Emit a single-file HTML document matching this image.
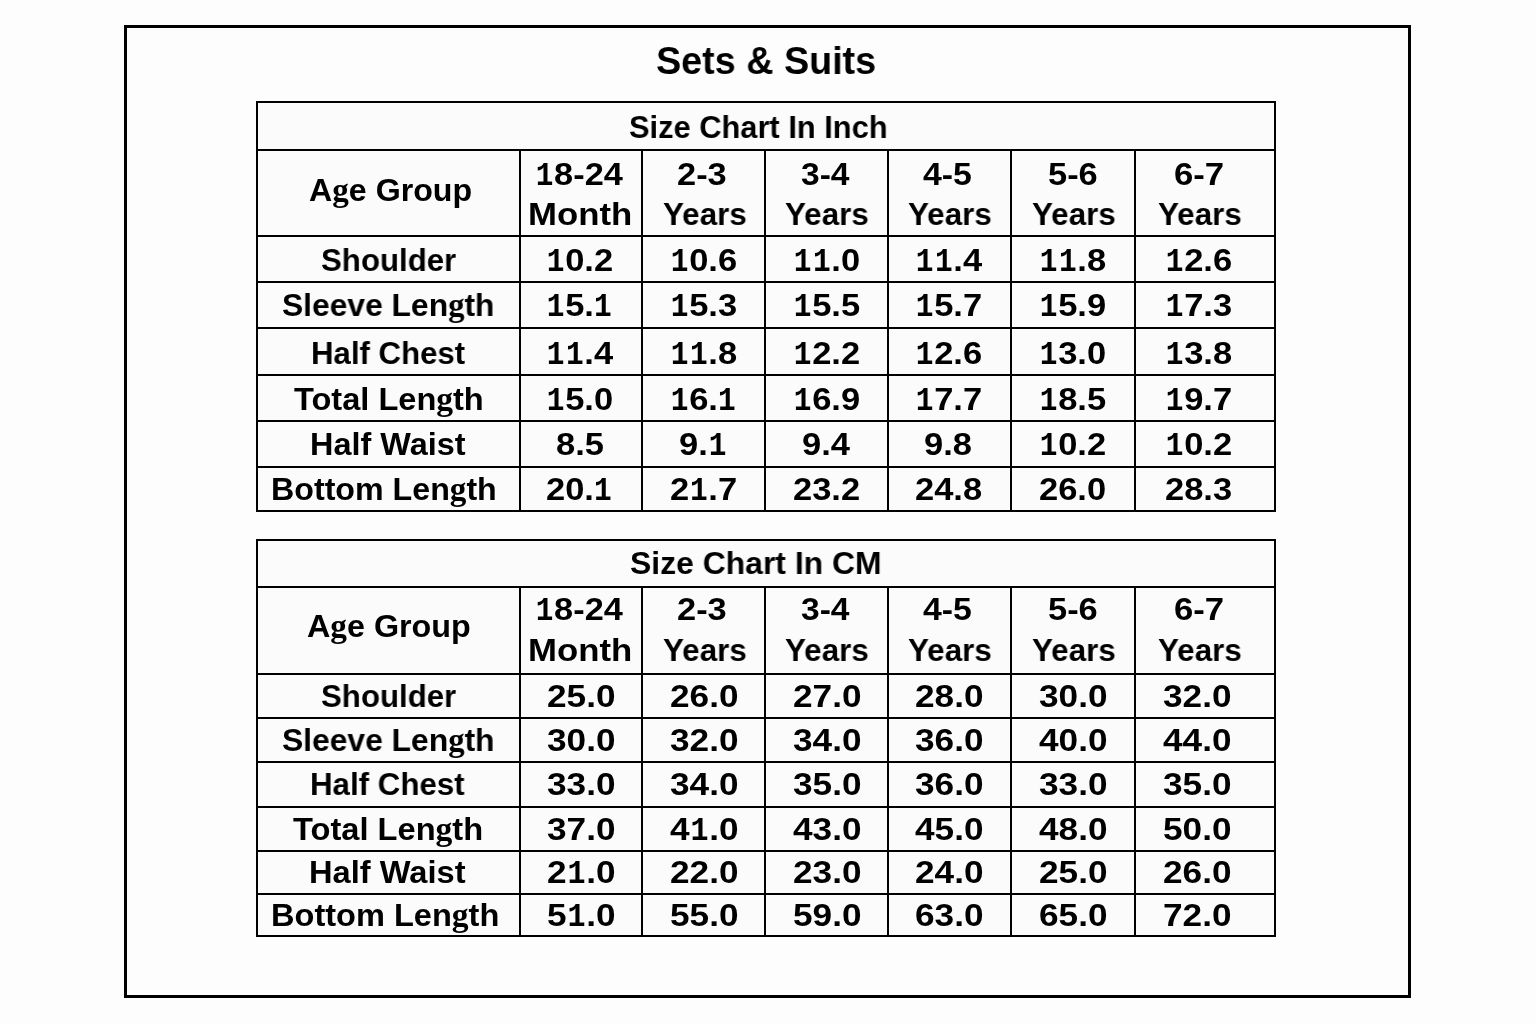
<!DOCTYPE html>
<html><head><meta charset="utf-8"><style>
html,body{margin:0;padding:0;}
body{width:1536px;height:1024px;background:#fdfdfd;position:relative;overflow:hidden;}
.frame{position:absolute;left:124px;top:25px;width:1287px;height:972.6px;box-sizing:border-box;border:3px solid #000;background:#fdfdfd;}
.cell{position:absolute;background:#fbfbfb;}
.t{position:absolute;will-change:transform;white-space:pre;line-height:1;font-family:"Liberation Sans",sans-serif;font-weight:bold;color:#000;transform-origin:0 0;}
.l{position:absolute;background:#000;}
.g{font-family:"Liberation Serif",serif;font-size:1.03em;line-height:0;}
.o{display:inline-block;width:0.532em;font-family:"Liberation Mono",monospace;font-size:1.045em;transform:translateX(0.0176em) scaleX(0.818);transform-origin:0 0;}
</style></head><body>
<div class="frame"></div>
<div class="cell" style="left:256.00px;top:101.00px;width:1020.30px;height:411.00px"></div>
<div class="l" style="left:256.00px;top:101.00px;width:1020.30px;height:2.0px"></div>
<div class="l" style="left:256.00px;top:149.00px;width:1020.30px;height:2.0px"></div>
<div class="l" style="left:256.00px;top:235.00px;width:1020.30px;height:2.0px"></div>
<div class="l" style="left:256.00px;top:281.00px;width:1020.30px;height:2.0px"></div>
<div class="l" style="left:256.00px;top:327.00px;width:1020.30px;height:2.0px"></div>
<div class="l" style="left:256.00px;top:373.50px;width:1020.30px;height:2.0px"></div>
<div class="l" style="left:256.00px;top:420.00px;width:1020.30px;height:2.0px"></div>
<div class="l" style="left:256.00px;top:465.50px;width:1020.30px;height:2.0px"></div>
<div class="l" style="left:256.00px;top:510.00px;width:1020.30px;height:2.0px"></div>
<div class="l" style="left:256.00px;top:101.00px;width:2.0px;height:411.00px"></div>
<div class="l" style="left:1274.30px;top:101.00px;width:2.0px;height:411.00px"></div>
<div class="l" style="left:518.70px;top:150.00px;width:2.0px;height:361.00px"></div>
<div class="l" style="left:640.50px;top:150.00px;width:2.0px;height:361.00px"></div>
<div class="l" style="left:764.20px;top:150.00px;width:2.0px;height:361.00px"></div>
<div class="l" style="left:887.00px;top:150.00px;width:2.0px;height:361.00px"></div>
<div class="l" style="left:1010.00px;top:150.00px;width:2.0px;height:361.00px"></div>
<div class="l" style="left:1134.40px;top:150.00px;width:2.0px;height:361.00px"></div>
<div class="cell" style="left:256.00px;top:539.00px;width:1020.30px;height:398.00px"></div>
<div class="l" style="left:256.00px;top:539.00px;width:1020.30px;height:2.0px"></div>
<div class="l" style="left:256.00px;top:585.50px;width:1020.30px;height:2.0px"></div>
<div class="l" style="left:256.00px;top:672.50px;width:1020.30px;height:2.0px"></div>
<div class="l" style="left:256.00px;top:717.00px;width:1020.30px;height:2.0px"></div>
<div class="l" style="left:256.00px;top:761.00px;width:1020.30px;height:2.0px"></div>
<div class="l" style="left:256.00px;top:805.50px;width:1020.30px;height:2.0px"></div>
<div class="l" style="left:256.00px;top:849.50px;width:1020.30px;height:2.0px"></div>
<div class="l" style="left:256.00px;top:893.00px;width:1020.30px;height:2.0px"></div>
<div class="l" style="left:256.00px;top:935.00px;width:1020.30px;height:2.0px"></div>
<div class="l" style="left:256.00px;top:539.00px;width:2.0px;height:398.00px"></div>
<div class="l" style="left:1274.30px;top:539.00px;width:2.0px;height:398.00px"></div>
<div class="l" style="left:518.70px;top:586.50px;width:2.0px;height:349.50px"></div>
<div class="l" style="left:640.50px;top:586.50px;width:2.0px;height:349.50px"></div>
<div class="l" style="left:764.20px;top:586.50px;width:2.0px;height:349.50px"></div>
<div class="l" style="left:887.00px;top:586.50px;width:2.0px;height:349.50px"></div>
<div class="l" style="left:1010.00px;top:586.50px;width:2.0px;height:349.50px"></div>
<div class="l" style="left:1134.40px;top:586.50px;width:2.0px;height:349.50px"></div>
<div class="t" style="left:655.72px;top:40.82px;font-size:39.5px;transform:scaleX(0.9551)">Sets &amp; Suits</div>
<div class="t" style="left:629.08px;top:111.36px;font-size:32.0px;transform:scaleX(0.9631)">Size Chart In Inch</div>
<div class="t" style="left:308.50px;top:174.36px;font-size:32.0px;transform:scaleX(1.0052)">A<span class="g">g</span>e Group</div>
<div class="t" style="left:535.12px;top:157.56px;font-size:32.0px;transform:scaleX(1.0736)"><span class="o">1</span>8-24</div>
<div class="t" style="left:527.89px;top:197.56px;font-size:32.0px;transform:scaleX(1.0859)">Month</div>
<div class="t" style="left:677.22px;top:157.56px;font-size:32.0px;transform:scaleX(1.0756)">2-3</div>
<div class="t" style="left:662.67px;top:197.56px;font-size:32.0px;transform:scaleX(0.9794)">Years</div>
<div class="t" style="left:800.91px;top:157.56px;font-size:32.0px;transform:scaleX(1.0490)">3-4</div>
<div class="t" style="left:784.67px;top:197.56px;font-size:32.0px;transform:scaleX(0.9794)">Years</div>
<div class="t" style="left:923.34px;top:157.56px;font-size:32.0px;transform:scaleX(1.0565)">4-5</div>
<div class="t" style="left:907.77px;top:197.56px;font-size:32.0px;transform:scaleX(0.9794)">Years</div>
<div class="t" style="left:1048.12px;top:157.56px;font-size:32.0px;transform:scaleX(1.0756)">5-6</div>
<div class="t" style="left:1031.77px;top:197.56px;font-size:32.0px;transform:scaleX(0.9794)">Years</div>
<div class="t" style="left:1174.04px;top:157.56px;font-size:32.0px;transform:scaleX(1.0835)">6-7</div>
<div class="t" style="left:1157.97px;top:197.56px;font-size:32.0px;transform:scaleX(0.9794)">Years</div>
<div class="t" style="left:321.06px;top:243.66px;font-size:32.0px;transform:scaleX(0.9747)">Shoulder</div>
<div class="t" style="left:546.23px;top:243.66px;font-size:32.0px;transform:scaleX(1.0781)"><span class="o">1</span>0.2</div>
<div class="t" style="left:669.83px;top:243.66px;font-size:32.0px;transform:scaleX(1.0781)"><span class="o">1</span>0.6</div>
<div class="t" style="left:792.63px;top:243.66px;font-size:32.0px;transform:scaleX(1.0781)"><span class="o">1</span><span class="o">1</span>.0</div>
<div class="t" style="left:914.63px;top:243.66px;font-size:32.0px;transform:scaleX(1.0781)"><span class="o">1</span><span class="o">1</span>.4</div>
<div class="t" style="left:1038.73px;top:243.66px;font-size:32.0px;transform:scaleX(1.0781)"><span class="o">1</span><span class="o">1</span>.8</div>
<div class="t" style="left:1165.03px;top:243.66px;font-size:32.0px;transform:scaleX(1.0781)"><span class="o">1</span>2.6</div>
<div class="t" style="left:282.45px;top:288.96px;font-size:32.0px;transform:scaleX(0.9932)">Sleeve Len<span class="g">g</span>th</div>
<div class="t" style="left:546.23px;top:288.96px;font-size:32.0px;transform:scaleX(1.0781)"><span class="o">1</span>5.<span class="o">1</span></div>
<div class="t" style="left:669.83px;top:288.96px;font-size:32.0px;transform:scaleX(1.0781)"><span class="o">1</span>5.3</div>
<div class="t" style="left:792.63px;top:288.96px;font-size:32.0px;transform:scaleX(1.0781)"><span class="o">1</span>5.5</div>
<div class="t" style="left:914.63px;top:288.96px;font-size:32.0px;transform:scaleX(1.0781)"><span class="o">1</span>5.7</div>
<div class="t" style="left:1038.73px;top:288.96px;font-size:32.0px;transform:scaleX(1.0781)"><span class="o">1</span>5.9</div>
<div class="t" style="left:1165.03px;top:288.96px;font-size:32.0px;transform:scaleX(1.0781)"><span class="o">1</span>7.3</div>
<div class="t" style="left:311.27px;top:336.66px;font-size:32.0px;transform:scaleX(0.9741)">Half Chest</div>
<div class="t" style="left:546.23px;top:336.66px;font-size:32.0px;transform:scaleX(1.0781)"><span class="o">1</span><span class="o">1</span>.4</div>
<div class="t" style="left:669.83px;top:336.66px;font-size:32.0px;transform:scaleX(1.0781)"><span class="o">1</span><span class="o">1</span>.8</div>
<div class="t" style="left:792.63px;top:336.66px;font-size:32.0px;transform:scaleX(1.0781)"><span class="o">1</span>2.2</div>
<div class="t" style="left:914.63px;top:336.66px;font-size:32.0px;transform:scaleX(1.0781)"><span class="o">1</span>2.6</div>
<div class="t" style="left:1038.73px;top:336.66px;font-size:32.0px;transform:scaleX(1.0781)"><span class="o">1</span>3.0</div>
<div class="t" style="left:1165.03px;top:336.66px;font-size:32.0px;transform:scaleX(1.0781)"><span class="o">1</span>3.8</div>
<div class="t" style="left:293.62px;top:382.56px;font-size:32.0px;transform:scaleX(1.0173)">Total Len<span class="g">g</span>th</div>
<div class="t" style="left:546.23px;top:382.56px;font-size:32.0px;transform:scaleX(1.0781)"><span class="o">1</span>5.0</div>
<div class="t" style="left:669.83px;top:382.56px;font-size:32.0px;transform:scaleX(1.0781)"><span class="o">1</span>6.<span class="o">1</span></div>
<div class="t" style="left:792.63px;top:382.56px;font-size:32.0px;transform:scaleX(1.0781)"><span class="o">1</span>6.9</div>
<div class="t" style="left:914.63px;top:382.56px;font-size:32.0px;transform:scaleX(1.0781)"><span class="o">1</span>7.7</div>
<div class="t" style="left:1038.73px;top:382.56px;font-size:32.0px;transform:scaleX(1.0781)"><span class="o">1</span>8.5</div>
<div class="t" style="left:1165.03px;top:382.56px;font-size:32.0px;transform:scaleX(1.0781)"><span class="o">1</span>9.7</div>
<div class="t" style="left:309.99px;top:428.46px;font-size:32.0px;transform:scaleX(1.0130)">Half Waist</div>
<div class="t" style="left:555.82px;top:428.46px;font-size:32.0px;transform:scaleX(1.0781)">8.5</div>
<div class="t" style="left:679.42px;top:428.46px;font-size:32.0px;transform:scaleX(1.0781)">9.<span class="o">1</span></div>
<div class="t" style="left:802.22px;top:428.46px;font-size:32.0px;transform:scaleX(1.0781)">9.4</div>
<div class="t" style="left:924.22px;top:428.46px;font-size:32.0px;transform:scaleX(1.0781)">9.8</div>
<div class="t" style="left:1038.73px;top:428.46px;font-size:32.0px;transform:scaleX(1.0781)"><span class="o">1</span>0.2</div>
<div class="t" style="left:1165.03px;top:428.46px;font-size:32.0px;transform:scaleX(1.0781)"><span class="o">1</span>0.2</div>
<div class="t" style="left:271.41px;top:473.16px;font-size:32.0px;transform:scaleX(1.0060)">Bottom Len<span class="g">g</span>th</div>
<div class="t" style="left:546.23px;top:473.16px;font-size:32.0px;transform:scaleX(1.0781)">20.<span class="o">1</span></div>
<div class="t" style="left:669.83px;top:473.16px;font-size:32.0px;transform:scaleX(1.0781)">2<span class="o">1</span>.7</div>
<div class="t" style="left:792.63px;top:473.16px;font-size:32.0px;transform:scaleX(1.0781)">23.2</div>
<div class="t" style="left:914.63px;top:473.16px;font-size:32.0px;transform:scaleX(1.0781)">24.8</div>
<div class="t" style="left:1038.73px;top:473.16px;font-size:32.0px;transform:scaleX(1.0781)">26.0</div>
<div class="t" style="left:1165.03px;top:473.16px;font-size:32.0px;transform:scaleX(1.0781)">28.3</div>
<div class="t" style="left:629.64px;top:547.26px;font-size:32.0px;transform:scaleX(0.9966)">Size Chart In CM</div>
<div class="t" style="left:306.74px;top:610.46px;font-size:32.0px;transform:scaleX(1.0096)">A<span class="g">g</span>e Group</div>
<div class="t" style="left:535.12px;top:593.16px;font-size:32.0px;transform:scaleX(1.0736)"><span class="o">1</span>8-24</div>
<div class="t" style="left:527.89px;top:634.46px;font-size:32.0px;transform:scaleX(1.0859)">Month</div>
<div class="t" style="left:677.22px;top:593.16px;font-size:32.0px;transform:scaleX(1.0756)">2-3</div>
<div class="t" style="left:662.67px;top:634.46px;font-size:32.0px;transform:scaleX(0.9794)">Years</div>
<div class="t" style="left:800.91px;top:593.16px;font-size:32.0px;transform:scaleX(1.0490)">3-4</div>
<div class="t" style="left:784.67px;top:634.46px;font-size:32.0px;transform:scaleX(0.9794)">Years</div>
<div class="t" style="left:923.34px;top:593.16px;font-size:32.0px;transform:scaleX(1.0565)">4-5</div>
<div class="t" style="left:907.77px;top:634.46px;font-size:32.0px;transform:scaleX(0.9794)">Years</div>
<div class="t" style="left:1048.12px;top:593.16px;font-size:32.0px;transform:scaleX(1.0756)">5-6</div>
<div class="t" style="left:1031.77px;top:634.46px;font-size:32.0px;transform:scaleX(0.9794)">Years</div>
<div class="t" style="left:1174.04px;top:593.16px;font-size:32.0px;transform:scaleX(1.0835)">6-7</div>
<div class="t" style="left:1157.97px;top:634.46px;font-size:32.0px;transform:scaleX(0.9794)">Years</div>
<div class="t" style="left:321.06px;top:679.56px;font-size:32.0px;transform:scaleX(0.9747)">Shoulder</div>
<div class="t" style="left:546.54px;top:679.56px;font-size:32.0px;transform:scaleX(1.1000)">25.0</div>
<div class="t" style="left:669.74px;top:679.56px;font-size:32.0px;transform:scaleX(1.1000)">26.0</div>
<div class="t" style="left:792.54px;top:679.56px;font-size:32.0px;transform:scaleX(1.1000)">27.0</div>
<div class="t" style="left:914.64px;top:679.56px;font-size:32.0px;transform:scaleX(1.1000)">28.0</div>
<div class="t" style="left:1038.54px;top:679.56px;font-size:32.0px;transform:scaleX(1.1000)">30.0</div>
<div class="t" style="left:1163.04px;top:679.56px;font-size:32.0px;transform:scaleX(1.1000)">32.0</div>
<div class="t" style="left:282.00px;top:724.06px;font-size:32.0px;transform:scaleX(0.9937)">Sleeve Len<span class="g">g</span>th</div>
<div class="t" style="left:546.54px;top:724.06px;font-size:32.0px;transform:scaleX(1.1000)">30.0</div>
<div class="t" style="left:669.74px;top:724.06px;font-size:32.0px;transform:scaleX(1.1000)">32.0</div>
<div class="t" style="left:792.54px;top:724.06px;font-size:32.0px;transform:scaleX(1.1000)">34.0</div>
<div class="t" style="left:914.64px;top:724.06px;font-size:32.0px;transform:scaleX(1.1000)">36.0</div>
<div class="t" style="left:1038.54px;top:724.06px;font-size:32.0px;transform:scaleX(1.1000)">40.0</div>
<div class="t" style="left:1163.04px;top:724.06px;font-size:32.0px;transform:scaleX(1.1000)">44.0</div>
<div class="t" style="left:310.42px;top:768.46px;font-size:32.0px;transform:scaleX(0.9773)">Half Chest</div>
<div class="t" style="left:546.54px;top:768.46px;font-size:32.0px;transform:scaleX(1.1000)">33.0</div>
<div class="t" style="left:669.74px;top:768.46px;font-size:32.0px;transform:scaleX(1.1000)">34.0</div>
<div class="t" style="left:792.54px;top:768.46px;font-size:32.0px;transform:scaleX(1.1000)">35.0</div>
<div class="t" style="left:914.64px;top:768.46px;font-size:32.0px;transform:scaleX(1.1000)">36.0</div>
<div class="t" style="left:1038.54px;top:768.46px;font-size:32.0px;transform:scaleX(1.1000)">33.0</div>
<div class="t" style="left:1163.04px;top:768.46px;font-size:32.0px;transform:scaleX(1.1000)">35.0</div>
<div class="t" style="left:292.72px;top:812.86px;font-size:32.0px;transform:scaleX(1.0194)">Total Len<span class="g">g</span>th</div>
<div class="t" style="left:546.54px;top:812.86px;font-size:32.0px;transform:scaleX(1.1000)">37.0</div>
<div class="t" style="left:669.75px;top:812.86px;font-size:32.0px;transform:scaleX(1.1000)">4<span class="o">1</span>.0</div>
<div class="t" style="left:792.54px;top:812.86px;font-size:32.0px;transform:scaleX(1.1000)">43.0</div>
<div class="t" style="left:914.64px;top:812.86px;font-size:32.0px;transform:scaleX(1.1000)">45.0</div>
<div class="t" style="left:1038.54px;top:812.86px;font-size:32.0px;transform:scaleX(1.1000)">48.0</div>
<div class="t" style="left:1163.04px;top:812.86px;font-size:32.0px;transform:scaleX(1.1000)">50.0</div>
<div class="t" style="left:308.68px;top:855.96px;font-size:32.0px;transform:scaleX(1.0196)">Half Waist</div>
<div class="t" style="left:546.55px;top:855.96px;font-size:32.0px;transform:scaleX(1.1000)">2<span class="o">1</span>.0</div>
<div class="t" style="left:669.74px;top:855.96px;font-size:32.0px;transform:scaleX(1.1000)">22.0</div>
<div class="t" style="left:792.54px;top:855.96px;font-size:32.0px;transform:scaleX(1.1000)">23.0</div>
<div class="t" style="left:914.64px;top:855.96px;font-size:32.0px;transform:scaleX(1.1000)">24.0</div>
<div class="t" style="left:1038.54px;top:855.96px;font-size:32.0px;transform:scaleX(1.1000)">25.0</div>
<div class="t" style="left:1163.04px;top:855.96px;font-size:32.0px;transform:scaleX(1.1000)">26.0</div>
<div class="t" style="left:270.53px;top:899.16px;font-size:32.0px;transform:scaleX(1.0173)">Bottom Len<span class="g">g</span>th</div>
<div class="t" style="left:546.55px;top:899.16px;font-size:32.0px;transform:scaleX(1.1000)">5<span class="o">1</span>.0</div>
<div class="t" style="left:669.74px;top:899.16px;font-size:32.0px;transform:scaleX(1.1000)">55.0</div>
<div class="t" style="left:792.54px;top:899.16px;font-size:32.0px;transform:scaleX(1.1000)">59.0</div>
<div class="t" style="left:914.64px;top:899.16px;font-size:32.0px;transform:scaleX(1.1000)">63.0</div>
<div class="t" style="left:1038.54px;top:899.16px;font-size:32.0px;transform:scaleX(1.1000)">65.0</div>
<div class="t" style="left:1163.04px;top:899.16px;font-size:32.0px;transform:scaleX(1.1000)">72.0</div>
</body></html>
